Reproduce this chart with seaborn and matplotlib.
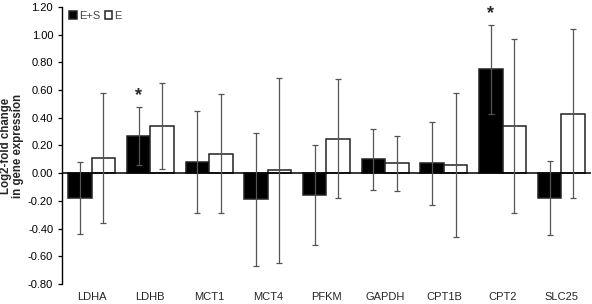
import matplotlib
matplotlib.use("Agg")
import matplotlib.pyplot as plt
import matplotlib.ticker as mticker
import numpy as np
import pandas as pd
import seaborn as sns

genes = ["LDHA", "LDHB", "MCT1", "MCT4", "PFKM", "GAPDH", "CPT1B", "CPT2", "SLC25"]
groups = ["E+S", "E"]
es_mean = [-0.18, 0.27, 0.08, -0.19, -0.16, 0.10, 0.07, 0.75, -0.18]
es_err = [0.26, 0.21, 0.37, 0.48, 0.36, 0.22, 0.30, 0.32, 0.27]
e_mean = [0.11, 0.34, 0.14, 0.02, 0.25, 0.07, 0.06, 0.34, 0.43]
e_err = [0.47, 0.31, 0.43, 0.67, 0.43, 0.20, 0.52, 0.63, 0.61]
significant = ["LDHB", "CPT2"]  # * above E+S

df = pd.DataFrame({
    "gene": genes * 2,
    "group": [groups[0]] * len(genes) + [groups[1]] * len(genes),
    "value": es_mean + e_mean,
    "err": es_err + e_err,
})

sns.set_style("white")
plt.rcParams["font.family"] = ["Liberation Sans", "DejaVu Sans"]

fig = plt.figure(figsize=(5.92, 3.04), dpi=100)
ax = fig.add_axes([0.105, 0.066, 0.893, 0.911])

sns.barplot(data=df, x="gene", y="value", hue="group", order=genes,
            hue_order=groups, palette={"E+S": "black", "E": "white"},
            errorbar=None, width=0.8, edgecolor="#222222", linewidth=1.1,
            ax=ax)

# error bars at bar centres
bars = [p for p in ax.patches if p.get_width() > 0][:2 * len(genes)]
errs = es_err + e_err
vals = es_mean + e_mean
for p, v, e in zip(bars, vals, errs):
    cx = p.get_x() + p.get_width() / 2
    ax.errorbar(cx, v, yerr=e, fmt="none", ecolor="#555555",
                elinewidth=0.9, capsize=2.5, capthick=0.9, zorder=3)

for g in significant:
    i = genes.index(g)
    p = bars[i]
    ax.text(p.get_x() + p.get_width() / 2, es_mean[i] + es_err[i] + 0.02, "*",
            ha="center", va="bottom", fontsize=13, fontweight="bold")

ax.axhline(0, color="black", linewidth=1.1, zorder=2)
ax.set_ylim(-0.8, 1.2)
ax.set_xlim(-0.5, len(genes) - 0.5)
ax.yaxis.set_major_locator(mticker.MultipleLocator(0.2))
ax.yaxis.set_major_formatter(mticker.FuncFormatter(lambda v, _: f"{v:.2f}".replace("\u2212", "-")))
ax.tick_params(axis="y", direction="out", length=3, width=0.9, labelsize=8,
               left=True, colors="black")
ax.tick_params(axis="x", length=0, labelsize=8, pad=6)
for s in ["top", "right", "bottom"]:
    ax.spines[s].set_visible(False)
ax.spines["left"].set_color("black")
ax.spines["left"].set_linewidth(1.0)
ax.set_xlabel("")
ax.set_ylabel("Log2-fold change\nin gene expression", fontsize=8.3,
              fontweight="bold", labelpad=3, linespacing=1.0)

leg = ax.legend(loc="upper left", bbox_to_anchor=(0.0, 1.01), ncol=2,
                frameon=False, fontsize=8, handlelength=0.7, handleheight=0.7,
                handletextpad=0.2, columnspacing=0.4, borderaxespad=0.2)
for t in leg.get_texts():
    t.set_color("#444444")

fig.savefig("out.png", dpi=100)
